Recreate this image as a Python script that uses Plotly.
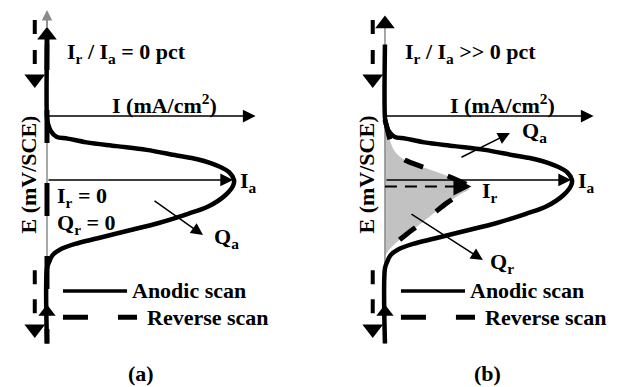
import plotly.graph_objects as go

# Schematic: E (vertical) vs I (horizontal); Ia = 100, E = 0 at the anodic peak
panels = ["(a)", "(b)"]
ratio_text = ["I<sub>r</sub> / I<sub>a</sub> = 0 pct", "I<sub>r</sub> / I<sub>a</sub> >> 0 pct"]

# anodic scan (same in both panels), from low E up to high E
anodic_I = [0, 0, 1, 3, 7, 15, 27, 43, 59, 75, 86, 95, 99, 99.5, 97, 92, 80, 69, 53, 37, 21, 11, 5, 2, 0.5, 0, 0]
anodic_E = [-87, -47, -44, -40, -37, -34, -31, -27, -23, -18, -14, -8, -3, 0, 4, 7, 11, 13, 16, 18, 20, 22, 23, 26, 30, 33, 72]

# reverse scan, panel (a): stays on the E axis (Ir = 0)
rev_a_I = [0, 0]
rev_a_E = [76, -87]

# reverse scan, panel (b): from high E down to low E
rev_b_I = [0, 1.1, 2.1, 3.7, 6.4, 10.6, 17, 24.5, 31.9, 38.3, 43.6, 44.7, 40.4, 33, 25.5, 18.1, 11.7, 6.4, 2.1, 0]
rev_b_E = [31.9, 27.7, 23.4, 18.1, 13.8, 10.6, 8, 5.3, 2.7, 0, -2.7, -4.8, -7.4, -12.2, -18.1, -23.9, -28.7, -33, -37.2, -40.4]

Ia = 99
Ir = 46
E_Ir = -3.5
E_Iaxis = 34
I_axis_end = 111
up_head_E = [77, 83]

ind_I = -6.5
ind_top_E = [85, 60]
ind_top_head = 53.7
ind_bot_E = [-48, -72]
ind_bot_head = -79.3
bot_head_E = -70.2

leg_solid_I = [8.5, 42.6]
leg_dash_I = [8.5, 47.9]
leg_E = [-59, -73]

FONT = dict(family="Liberation Serif", size=22, color="black")

fig = go.Figure()
annots = []

for p in range(2):
    xr = "x" if p == 0 else "x2"
    yr = "y" if p == 0 else "y2"

    def line(xs, ys, width=4, dash="solid", color="black", shape="linear", **kw):
        fig.add_trace(go.Scatter(x=xs, y=ys, mode="lines", xaxis=xr, yaxis=yr,
                                 line=dict(color=color, width=width, dash=dash, shape=shape),
                                 hoverinfo="skip", showlegend=False, **kw))

    def marker(xs, ys, sym, size):
        fig.add_trace(go.Scatter(x=xs, y=ys, mode="markers", xaxis=xr, yaxis=yr,
                                 marker=dict(symbol=sym, size=size, color="black"),
                                 hoverinfo="skip", showlegend=False))

    def arrow(x0, y0, x1, y1, width=1.5, size=1.6, color="black"):
        annots.append(dict(x=x1, y=y1, ax=x0, ay=y0, xref=xr, yref=yr, axref=xr, ayref=yr,
                           text="", showarrow=True, arrowhead=2, arrowsize=size,
                           arrowwidth=width, arrowcolor=color))

    def text(x, y, s, anchor="left", angle=0):
        annots.append(dict(x=x, y=y, xref=xr, yref=yr, text="<b>" + s + "</b>", showarrow=False,
                           xanchor=anchor, yanchor="middle", font=FONT, textangle=angle))

    # grey area under the reverse scan
    if p == 1:
        fig.add_trace(go.Scatter(x=rev_b_I, y=rev_b_E, mode="lines", xaxis=xr, yaxis=yr,
                                 fill="toself", fillcolor="#c2c2c2", line=dict(width=0, shape="spline"),
                                 hoverinfo="skip", showlegend=False))

    # E axis (thin grey) with tip
    line([0, 0], [-87, 86], width=1.5, color="#8a8a8a")
    if p == 0:
        arrow(0, 80, 0, 90.4, width=1.5, size=1.4, color="#8a8a8a")

    # I axis and Ia line
    arrow(0, E_Iaxis, I_axis_end, E_Iaxis, width=1.5, size=1.7)
    arrow(0, 0, Ia, 0, width=1.5, size=1.7)

    # anodic scan
    line(anodic_I, anodic_E + [up_head_E[p] - 5], width=4.5, shape="spline")
    marker([0], [up_head_E[p]], "triangle-up", 17)
    marker([0], [bot_head_E], "triangle-up", 15)

    # reverse scan
    if p == 0:
        line(rev_a_I, rev_a_E, width=5, dash="33px,40px")
    else:
        line(rev_b_I, rev_b_E, width=5, dash="20px,26px", shape="spline")
        line([0, Ir - 6], [E_Ir, E_Ir], width=2, dash="12px,8px")
        arrow(Ir - 8, E_Ir, Ir, E_Ir, width=3, size=1.2)

    # scan direction indicators
    line([ind_I, ind_I], ind_top_E, width=4, dash="14px,16px")
    marker([ind_I], [ind_top_head], "triangle-down", 18)
    line([ind_I, ind_I], ind_bot_E, width=4, dash="14px,15px")
    marker([ind_I], [ind_bot_head], "triangle-down", 18)

    # legend
    line(leg_solid_I, [leg_E[0], leg_E[0]], width=3.5)
    line(leg_dash_I, [leg_E[1], leg_E[1]], width=5, dash="25px,30px")
    text(leg_solid_I[1] + 1.5, leg_E[0], "Anodic scan")
    text(leg_dash_I[1] + 4, leg_E[1], "Reverse scan")

    # labels
    text(9.5, 67.6, ratio_text[p])
    text(33.5, 40.5, "I (mA/cm<sup>2</sup>)")
    text(Ia + 2.5, -1, "I<sub>a</sub>")
    text(-10, 3, "E (mV/SCE)", anchor="center", angle=-90)
    text(50 + 4.5 * p, -103, panels[p], anchor="center")

    if p == 0:
        text(4.3, -8.8, "I<sub>r</sub> = 0")
        text(4.3, -23.6, "Q<sub>r</sub> = 0")
        arrow(56.4, -10.6, 83, -29.3)
        text(88, -31, "Q<sub>a</sub>")
    else:
        text(Ir + 4.5, -6.4, "I<sub>r</sub>")
        arrow(39.9, 11.7, 66.5, 25)
        text(72, 25.5, "Q<sub>a</sub>")
        arrow(13.3, -17.6, 52.1, -42.6)
        text(55, -44, "Q<sub>r</sub>")

ax_common = dict(visible=False, fixedrange=True)
fig.update_layout(
    width=625, height=387,
    margin=dict(l=0, r=0, t=0, b=0),
    plot_bgcolor="white", paper_bgcolor="white",
    xaxis=dict(domain=[0, 0.48], range=[-25.0, 134.6], **ax_common),
    xaxis2=dict(domain=[0.48, 1], range=[-45.2, 127.7], **ax_common),
    yaxis=dict(domain=[0, 1], range=[-110.1, 95.7], **ax_common),
    yaxis2=dict(domain=[0, 1], range=[-110.1, 95.7], anchor="x2", **ax_common),
    annotations=annots,
)

# page body has a default 8px margin; drop it so the figure sits at the window corner
fig.write_html("out.html", config=dict(displayModeBar=False),
               post_script="document.body.style.margin='0';")
